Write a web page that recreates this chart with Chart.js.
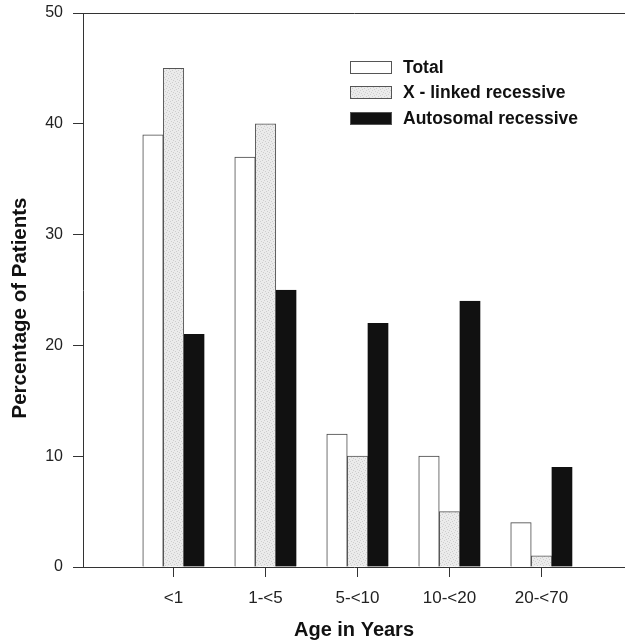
<!DOCTYPE html>
<html>
<head>
<meta charset="utf-8">
<script src="https://cdn.jsdelivr.net/npm/chart.js@4/dist/chart.umd.min.js"></script>
<style>
  html, body { margin: 0; padding: 0; background: #fff; }
  #wrap { width: 625px; height: 642px; position: relative; }
</style>
</head>
<body>
<div id="wrap"><canvas id="c" width="625" height="642"></canvas></div>
<script>
// Age groups and percentage of patients in each group
const ageGroups = ['<1', '1-<5', '5-<10', '10-<20', '20-<70'];
const totalPct = [39, 37, 12, 10, 4];
const xLinkedPct = [45, 40, 10, 5, 1];
const autosomalPct = [21, 25, 22, 24, 9];
const yTicks = [0, 10, 20, 30, 40, 50];
const yTitle = 'Percentage of Patients';

const FONT = '"Liberation Sans", Arial, Helvetica, sans-serif';
const INK = '#222';

// light stippled grey fill
function stipple() {
  const c = document.createElement('canvas');
  c.width = 6; c.height = 6;
  const g = c.getContext('2d');
  g.fillStyle = '#ebebeb';
  g.fillRect(0, 0, 6, 6);
  g.fillStyle = '#cdcdcd';
  [[0,0],[3,1],[1,3],[4,4],[5,2],[2,5]].forEach(([x, y]) => g.fillRect(x, y, 1, 1));
  return g.createPattern(c, 'repeat');
}

// place bars at category positions 1..n on a linear axis
const toPoints = arr => arr.map((v, i) => ({ x: i + 1, y: v }));

// legend inside the plot, plus the rotated y-axis caption
const decorations = {
  id: 'decorations',
  afterDraw(chart) {
    const ctx = chart.ctx;
    const x0 = 350, w = 41, h = 12, rows = [67, 92, 118];
    ctx.save();
    ctx.font = 'bold 17.5px ' + FONT;
    ctx.textBaseline = 'middle';
    chart.data.datasets.forEach((ds, i) => {
      const y = rows[i];
      ctx.fillStyle = ds.backgroundColor;
      ctx.fillRect(x0, y - h / 2, w, h);
      ctx.strokeStyle = '#555';
      ctx.lineWidth = 1;
      ctx.strokeRect(x0 + 0.5, y - h / 2 + 0.5, w, h);
      ctx.fillStyle = '#111';
      ctx.fillText(ds.label, 403, y + 1);
    });
    ctx.translate(20, 308);
    ctx.rotate(-Math.PI / 2);
    ctx.textAlign = 'center';
    ctx.font = 'bold 20.5px ' + FONT;
    ctx.fillText(yTitle, 0, 0);
    ctx.restore();
  }
};

new Chart(document.getElementById('c'), {
  type: 'bar',
  data: {
    datasets: [
      { label: 'Total', data: toPoints(totalPct), backgroundColor: '#ffffff', borderColor: '#444', borderWidth: 1 },
      { label: 'X - linked recessive', data: toPoints(xLinkedPct), backgroundColor: stipple(), borderColor: '#555', borderWidth: 1 },
      { label: 'Autosomal recessive', data: toPoints(autosomalPct), backgroundColor: '#111111', borderColor: '#111', borderWidth: 1 }
    ]
  },
  options: {
    responsive: false,
    animation: false,
    barThickness: 20.5,
    layout: { padding: { top: 13, right: 0, left: 0, bottom: 0 } },
    plugins: { legend: { display: false }, tooltip: { enabled: false } },
    scales: {
      x: {
        type: 'linear',
        offset: false,
        min: 0.016,
        max: 5.908,
        afterBuildTicks: s => { s.ticks = ageGroups.map((_, i) => ({ value: i + 1 })); },
        afterFit: s => { s.height = 75; s.paddingLeft = 0; s.paddingRight = 0; },
        ticks: {
          autoSkip: false,
          maxRotation: 0,
          padding: 11,
          color: INK,
          font: { family: FONT, size: 17 },
          callback: v => ageGroups[Math.round(v) - 1]
        },
        grid: { offset: false, drawOnChartArea: false, drawTicks: true, tickLength: 10, tickColor: '#333' },
        border: { display: true, color: '#333', width: 1 },
        title: {
          display: true,
          text: 'Age in Years',
          color: '#111',
          font: { family: FONT, size: 20, weight: 'bold' },
          padding: { top: 0, bottom: 0 }
        }
      },
      y: {
        min: 0,
        max: 50,
        afterBuildTicks: s => { s.ticks = yTicks.map(v => ({ value: v })); },
        afterFit: s => { s.width = 83; s.paddingTop = 0; s.paddingBottom = 0; },
        ticks: { padding: 10, color: INK, font: { family: FONT, size: 16 } },
        grid: {
          color: c => (c.tick && c.tick.value === 50) ? '#333' : 'rgba(0,0,0,0)',
          tickColor: '#333',
          tickLength: 10,
          lineWidth: 1
        },
        border: { display: true, color: '#333', width: 1 },
        title: { display: false, text: yTitle }
      }
    }
  },
  plugins: [decorations]
});
</script>
</body>
</html>
